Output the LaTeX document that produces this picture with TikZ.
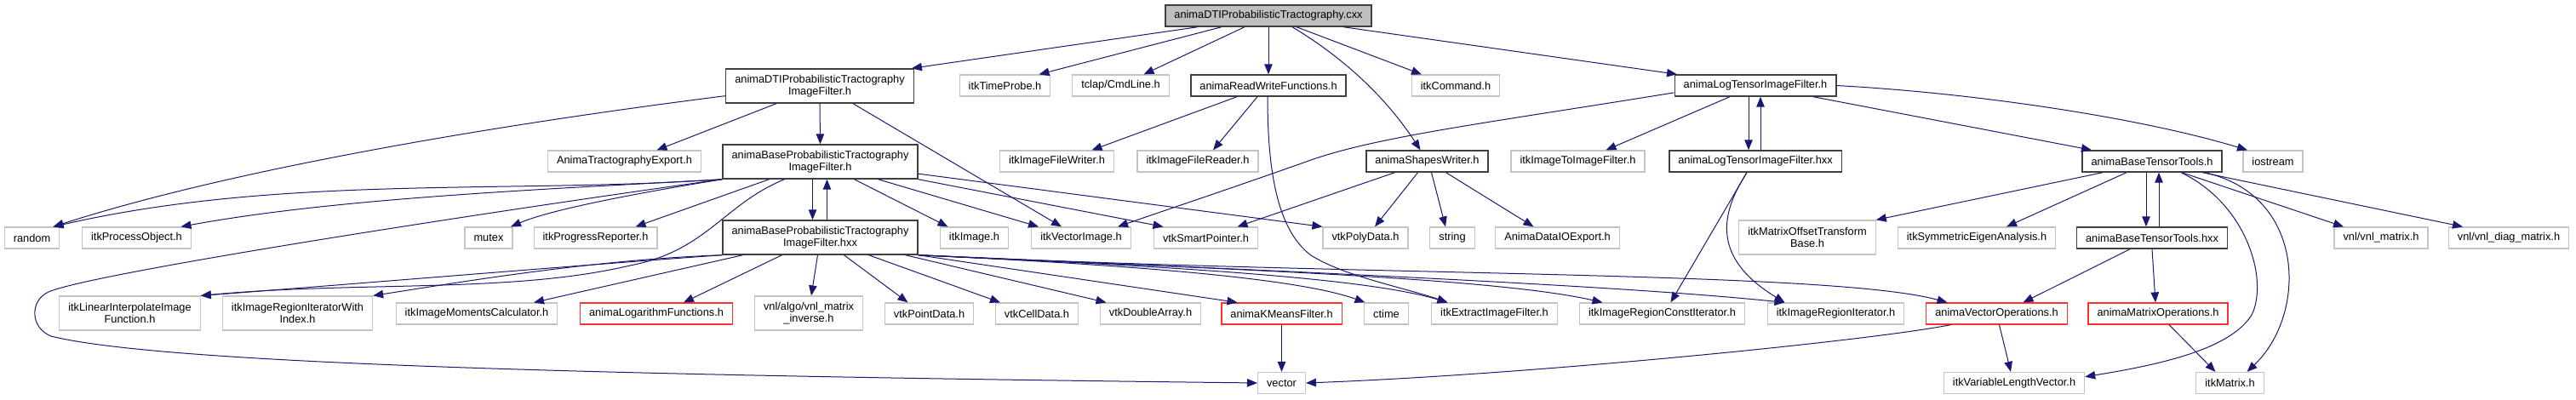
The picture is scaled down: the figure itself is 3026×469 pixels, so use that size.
\documentclass[tikz,border=0pt]{standalone}
\usepackage{fontspec}
\setmainfont{Liberation Sans}
\usetikzlibrary{arrows.meta}
\definecolor{edgeblue}{RGB}{25,25,112}
\definecolor{extgray}{RGB}{196,196,196}
\definecolor{docgray}{RGB}{64,64,64}
\definecolor{rootfill}{RGB}{191,191,191}
\definecolor{warnred}{RGB}{255,48,48}

\begin{document}
\begin{tikzpicture}[x=1pt,y=1pt,yscale=-1,xscale=1,
  box/.style={draw,rectangle,align=center,inner xsep=10.5pt,inner ysep=2pt,minimum height=25pt,font=\fontsize{12.8}{14.5}\selectfont},
  docbox/.style={box,draw=docgray,line width=1.4pt},
  extbox/.style={box,draw=extgray,line width=1.2pt},
  redbox/.style={box,draw=warnred,line width=1.2pt},
  rootbox/.style={box,draw=docgray,fill=rootfill,line width=1.4pt},
  twoline/.style={minimum height=40pt},
  dep/.style={draw=edgeblue,line width=1pt,-{Triangle[length=12pt,width=9.5pt]}}]
\useasboundingbox (0,0) rectangle (3026,469);

% Text Node: source file
\node[rootbox] (root) at (1490,18.5) {animaDTIProbabilisticTractography.cxx};

% Text Node: first level
\node[docbox,twoline] (dtih) at (963,101) {animaDTIProbabilisticTractography\\ImageFilter.h};
\node[extbox] (timeprobe) at (1180.5,100.5) {itkTimeProbe.h};
\node[extbox] (cmdline) at (1316.5,100.5) {tclap/CmdLine.h};
\node[docbox] (readwrite) at (1490,100.5) {animaReadWriteFunctions.h};
\node[extbox] (command) at (1710,100.5) {itkCommand.h};
\node[docbox] (logh) at (2062,100.5) {animaLogTensorImageFilter.h};

% Text Node: second level
\node[extbox] (tractexport) at (733.5,189.5) {AnimaTractographyExport.h};
\node[docbox,twoline] (baseh) at (963.5,190) {animaBaseProbabilisticTractography\\ImageFilter.h};
\node[extbox] (filewriter) at (1241.5,189.5) {itkImageFileWriter.h};
\node[extbox] (filereader) at (1407,189.5) {itkImageFileReader.h};
\node[docbox] (shapes) at (1676.5,189.5) {animaShapesWriter.h};
\node[extbox] (imagetoimage) at (1853.5,189.5) {itkImageToImageFilter.h};
\node[docbox] (loghxx) at (2062,189.5) {animaLogTensorImageFilter.hxx};
\node[docbox] (tensorh) at (2528,189.5) {animaBaseTensorTools.h};
\node[extbox] (iostream) at (2670,189.5) {iostream};

% Text Node: third level
\node[extbox] (random) at (37.5,279.5) {random};
\node[extbox] (processobj) at (160.5,279.5) {itkProcessObject.h};
\node[extbox] (mutex) at (574,279.5) {mutex};
\node[extbox] (progress) at (699.5,279.5) {itkProgressReporter.h};
\node[docbox,twoline] (basehxx) at (963.5,279) {animaBaseProbabilisticTractography\\ImageFilter.hxx};
\node[extbox] (itkimage) at (1144.5,279.5) {itkImage.h};
\node[extbox] (vectorimage) at (1270,279.5) {itkVectorImage.h};
\node[extbox] (smartptr) at (1416.5,279.5) {vtkSmartPointer.h};
\node[extbox] (polydata) at (1604,279.5) {vtkPolyData.h};
\node[extbox] (string) at (1706,279.5) {string};
\node[extbox] (dataio) at (1829.5,279.5) {AnimaDataIOExport.h};
\node[extbox,twoline] (matrixoffset) at (2123,279) {itkMatrixOffsetTransform\\Base.h};
\node[extbox] (eigen) at (2322,279.5) {itkSymmetricEigenAnalysis.h};
\node[docbox] (tensorhxx) at (2528,279.5) {animaBaseTensorTools.hxx};
\node[extbox] (vnlmatrix) at (2797,279.5) {vnl/vnl\_matrix.h};
\node[extbox] (vnldiag) at (2947,279.5) {vnl/vnl\_diag\_matrix.h};

% Text Node: fourth level
\node[extbox,twoline] (linearinterp) at (152.5,368) {itkLinearInterpolateImage\\Function.h};
\node[extbox,twoline] (regionidx) at (349.5,368) {itkImageRegionIteratorWith\\Index.h};
\node[extbox] (moments) at (560,368.5) {itkImageMomentsCalculator.h};
\node[redbox] (logfunc) at (771,368.5) {animaLogarithmFunctions.h};
\node[extbox,twoline] (matinverse) at (950,368) {vnl/algo/vnl\_matrix\\\_inverse.h};
\node[extbox] (pointdata) at (1091.5,368.5) {vtkPointData.h};
\node[extbox] (celldata) at (1218,368.5) {vtkCellData.h};
\node[extbox] (doublearray) at (1351.5,368.5) {vtkDoubleArray.h};
\node[redbox] (kmeans) at (1505.5,368.5) {animaKMeansFilter.h};
\node[extbox] (ctime) at (1628.5,368.5) {ctime};
\node[extbox] (extract) at (1755.5,368.5) {itkExtractImageFilter.h};
\node[extbox] (regionconst) at (1952.5,368.5) {itkImageRegionConstIterator.h};
\node[extbox] (regioniter) at (2156.5,368.5) {itkImageRegionIterator.h};
\node[redbox] (vectorops) at (2345.5,368.5) {animaVectorOperations.h};
\node[redbox] (matrixops) at (2535,368.5) {animaMatrixOperations.h};

% Text Node: last level
\node[extbox] (vector) at (1505.5,450) {vector};
\node[extbox] (varlen) at (2366,450) {itkVariableLengthVector.h};
\node[extbox] (itkmatrix) at (2619.5,450) {itkMatrix.h};

%Straight Lines: from the source file
\draw[dep] ([xshift=-83pt]root.south) -- ([xshift=-3pt]dtih.north east);
\draw[dep] ([xshift=-55pt]root.south) -- ([xshift=40pt]timeprobe.north);
\draw[dep] ([xshift=-28pt]root.south) -- ([xshift=27pt]cmdline.north);
\draw[dep] (root.south) -- (readwrite.north);
\draw[dep] ([xshift=28pt]root.south) .. controls (1590,75) and (1635,125) .. ([xshift=-8pt]shapes.north);
\draw[dep] ([xshift=33pt]root.south) -- ([xshift=-40pt]command.north);
\draw[dep] ([xshift=88pt]root.south) -- ([xshift=-92pt]logh.north);

%Straight Lines: tractography filter header
\draw[dep] (dtih.186) .. controls (650,138) and (300,190) .. ([xshift=25pt]random.north);
\draw[dep] ([xshift=-51pt]dtih.south) -- ([xshift=38pt]tractexport.north);
\draw[dep] (dtih.south) -- (baseh.north);
\draw[dep] ([xshift=39pt]dtih.south) -- ([xshift=-23pt]vectorimage.north);

%Curve Lines: base filter header
\draw[dep] (baseh.south west) .. controls (600,228) and (330,205) .. ([xshift=25pt]random.north);
\draw[dep] (baseh.south west) .. controls (650,222) and (400,232) .. ([xshift=52pt]processobj.north);
\draw[dep] (baseh.south west) .. controls (760,225) and (650,245) .. ([xshift=26pt]mutex.north);
\draw[dep] ([xshift=-60pt]baseh.south) -- ([xshift=47pt]progress.north);
\draw[dep] ([xshift=-9pt]baseh.south) -- ([xshift=-9pt]basehxx.north);
\draw[dep] ([xshift=8pt]basehxx.north) -- ([xshift=8pt]baseh.south);
\draw[dep] ([xshift=-42pt]baseh.south) .. controls (850,240) and (830,295) .. (740,312) .. controls (600,345) and (420,330) .. (linearinterp.north east);
\draw[dep] (baseh.south west) .. controls (600,245) and (110,320) .. (57,343) .. controls (35,353) and (35,385) .. (60,395) .. controls (200,430) and (800,442) .. (vector.west);
\draw[dep] ([xshift=40pt]baseh.south) -- ([xshift=-31pt]itkimage.north);
\draw[dep] ([xshift=68pt]baseh.south) -- ([xshift=-50pt]vectorimage.north);
\draw[dep] (baseh.south east) -- ([xshift=-50pt]smartptr.north);
\draw[dep] (baseh.-7) -- (polydata.north west);

%Curve Lines: base filter implementation
\draw[dep] (basehxx.south west) .. controls (700,310) and (400,335) .. (linearinterp.north east);
\draw[dep] (basehxx.south west) .. controls (700,305) and (550,330) .. (regionidx.north east);
\draw[dep] ([xshift=-91pt]basehxx.south) -- ([xshift=67pt]moments.north);
\draw[dep] ([xshift=-45pt]basehxx.south) -- ([xshift=32pt]logfunc.north);
\draw[dep] ([xshift=-3pt]basehxx.south) -- ([xshift=3pt]matinverse.north);
\draw[dep] ([xshift=28pt]basehxx.south) -- ([xshift=-25pt]pointdata.north);
\draw[dep] ([xshift=57pt]basehxx.south) -- ([xshift=-43pt]celldata.north);
\draw[dep] ([xshift=100pt]basehxx.south) -- ([xshift=-52pt]doublearray.north);
\draw[dep] (basehxx.south east) -- ([xshift=-52pt]kmeans.north);
\draw[dep] (basehxx.south east) .. controls (1300,310) and (1520,325) .. ([xshift=-25pt]ctime.north);
\draw[dep] (basehxx.south east) .. controls (1350,312) and (1600,325) .. ([xshift=-55pt]extract.north);
\draw[dep] (basehxx.south east) .. controls (1400,315) and (1750,325) .. ([xshift=-70pt]regionconst.north);
\draw[dep] (basehxx.south east) .. controls (1500,318) and (1900,335) .. ([xshift=-60pt]regioniter.north);
\draw[dep] (basehxx.south east) .. controls (1600,325) and (2150,318) .. ([xshift=-58pt]vectorops.north);

%Straight Lines: read/write functions
\draw[dep] ([xshift=-37pt]readwrite.south) -- ([xshift=41pt]filewriter.north);
\draw[dep] ([xshift=-13pt]readwrite.south) -- ([xshift=18pt]filereader.north);
\draw[dep] ([xshift=-1pt]readwrite.south) .. controls (1489,200) and (1500,270) .. (1540,300) .. controls (1580,325) and (1650,338) .. ([xshift=-55pt]extract.north);

%Straight Lines: shapes writer
\draw[dep] ([xshift=-38pt]shapes.south) -- ([xshift=37pt]smartptr.north);
\draw[dep] ([xshift=-11pt]shapes.south) -- ([xshift=11pt]polydata.north);
\draw[dep] ([xshift=5pt]shapes.south) -- ([xshift=-8pt]string.north);
\draw[dep] ([xshift=22pt]shapes.south) -- ([xshift=-28pt]dataio.north);

%Curve Lines: log tensor filter
\draw[dep] (logh.185) .. controls (1750,144) and (1620,160) .. (1540,188) .. controls (1450,220) and (1360,250) .. ([xshift=43pt]vectorimage.north);
\draw[dep] ([xshift=-30pt]logh.south) -- ([xshift=33pt]imagetoimage.north);
\draw[dep] ([xshift=-8pt]logh.south) -- ([xshift=-8pt]loghxx.north);
\draw[dep] ([xshift=6pt]loghxx.north) -- ([xshift=6pt]logh.south);
\draw[dep] ([xshift=68pt]logh.south) -- ([xshift=-71pt]tensorh.north);
\draw[dep] (logh.east) .. controls (2330,110) and (2520,140) .. ([xshift=-30pt]iostream.north);
\draw[dep] ([xshift=-10pt]loghxx.south) -- ([xshift=10pt]regionconst.north);
\draw[dep] ([xshift=-10pt]loghxx.south) .. controls (2025,245) and (2005,300) .. ([xshift=-60pt]regioniter.north);

%Curve Lines: tensor tools
\draw[dep] ([xshift=-58pt]tensorh.south) -- (matrixoffset.north east);
\draw[dep] ([xshift=-30pt]tensorh.south) -- ([xshift=35pt]eigen.north);
\draw[dep] ([xshift=-7pt]tensorh.south) -- ([xshift=-7pt]tensorhxx.north);
\draw[dep] ([xshift=8pt]tensorhxx.north) -- ([xshift=8pt]tensorh.south);
\draw[dep] ([xshift=35pt]tensorh.south) -- ([xshift=-44pt]vnlmatrix.north);
\draw[dep] ([xshift=59pt]tensorh.south) -- ([xshift=-54pt]vnldiag.north);
\draw[dep] ([xshift=62pt]tensorh.south) .. controls (2710,230) and (2710,370) .. ([xshift=20pt]itkmatrix.north);
\draw[dep] ([xshift=34pt]tensorh.south) .. controls (2640,240) and (2665,330) .. (2645,370) .. controls (2620,410) and (2540,428) .. (varlen.5);
\draw[dep] ([xshift=-26pt]tensorhxx.south) -- ([xshift=31pt]vectorops.north);
\draw[dep] (tensorhxx.south) -- ([xshift=-3pt]matrixops.north);

%Straight Lines: bottom level
\draw[dep] ([xshift=-54pt]vectorops.south) .. controls (2200,400) and (1800,440) .. (vector.east);
\draw[dep] ([xshift=3pt]vectorops.south) -- ([xshift=-4pt]varlen.north);
\draw[dep] ([xshift=13pt]matrixops.south) -- ([xshift=-17pt]itkmatrix.north);
\draw[dep] (kmeans.south) -- (vector.north);

\end{tikzpicture}
\end{document}
